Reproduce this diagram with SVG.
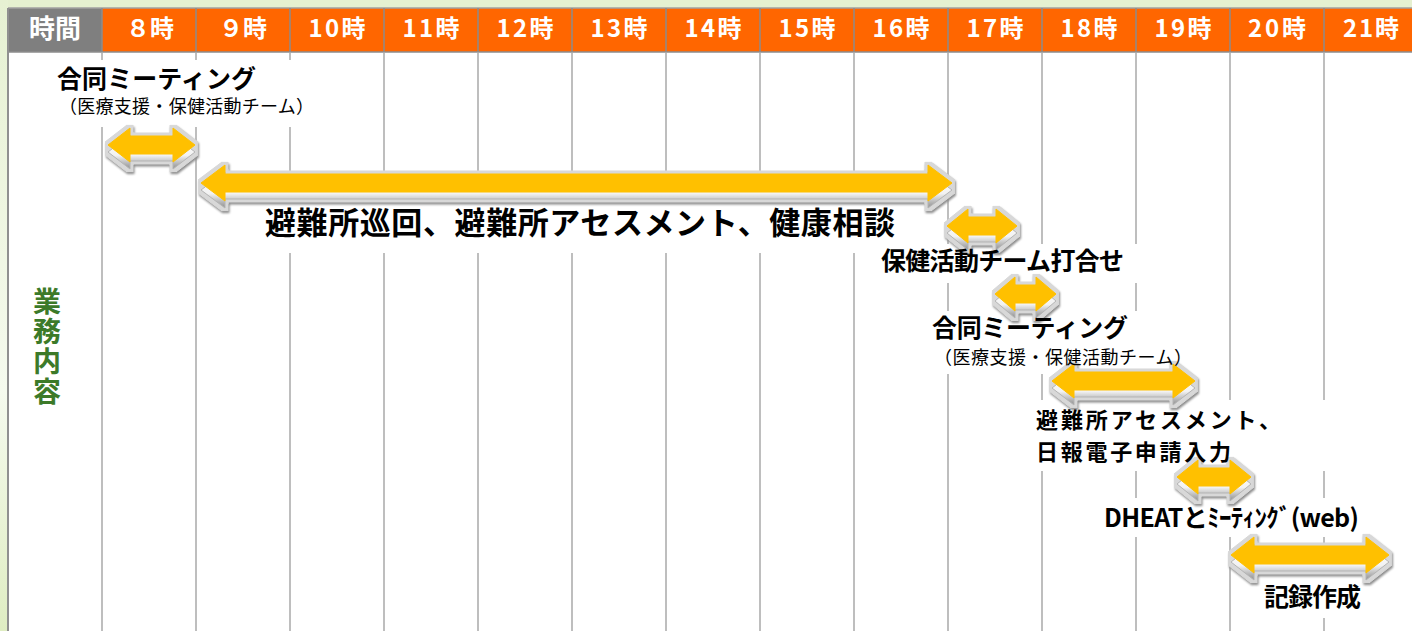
<svg xmlns="http://www.w3.org/2000/svg" xmlns:xlink="http://www.w3.org/1999/xlink" width="1412" height="631" viewBox="0 0 1412 631">
<defs>
  <linearGradient id="bgside" x1="0" y1="0" x2="0" y2="1">
    <stop offset="0" stop-color="#e6f1d2"/>
    <stop offset="0.62" stop-color="#f5faee"/>
    <stop offset="1" stop-color="#dfedc2"/>
  </linearGradient>
  <linearGradient id="ext" x1="0" y1="0" x2="0" y2="1">
    <stop offset="0" stop-color="#ffffff"/>
    <stop offset="0.6" stop-color="#f2f2f2"/>
    <stop offset="1" stop-color="#8e8e8e"/>
  </linearGradient>
  <filter id="bev" filterUnits="userSpaceOnUse" x="0" y="0" width="1412" height="631" color-interpolation-filters="sRGB">
    <feMorphology in="SourceAlpha" operator="dilate" radius="2.5" result="dil"/>
    <feGaussianBlur in="dil" stdDeviation="1.2" result="blur"/>
    <feOffset in="blur" dx="1" dy="1.5" result="off"/>
    <feFlood flood-color="#8c8c8c" result="c1"/>
    <feComposite in="c1" in2="off" operator="in" result="shadow"/>
    <feFlood flood-color="#d8d8d8" result="c2"/>
    <feComposite in="c2" in2="dil" operator="in" result="rim"/>
    <feMerge><feMergeNode in="shadow"/><feMergeNode in="rim"/><feMergeNode in="SourceGraphic"/></feMerge>
  </filter>
  <path id="a1" d="M108 145 L130 128 L130 136 L173 136 L173 128 L195 145 L173 162 L173 154 L130 154 L130 162 Z"/>
  <path id="a2" d="M201 183 L225 165 L225 174 L928 174 L928 165 L952 183 L928 201 L928 192 L225 192 L225 201 Z"/>
  <path id="a3" d="M947 226 L968 209 L968 217 L996 217 L996 209 L1017 226 L996 243 L996 235 L968 235 L968 243 Z"/>
  <path id="a4" d="M995 294 L1015 277 L1015 285 L1036 285 L1036 277 L1056 294 L1036 311 L1036 303 L1015 303 L1015 311 Z"/>
  <path id="a5" d="M1052 381 L1074 364 L1074 372 L1173 372 L1173 364 L1195 381 L1173 398 L1173 390 L1074 390 L1074 398 Z"/>
  <path id="a6" d="M1177 477 L1198 460 L1198 468 L1230 468 L1230 460 L1251 477 L1230 494 L1230 486 L1198 486 L1198 494 Z"/>
  <path id="a7" d="M1231 555 L1254 537 L1254 546 L1366 546 L1366 537 L1389 555 L1366 573 L1366 564 L1254 564 L1254 573 Z"/>
</defs>
<style>
  .hdr { font-family: "Noto Sans CJK JP", "Noto Sans", sans-serif; font-weight: 700; font-size: 24px; fill: #ffffff; text-anchor: middle; }
  .grid { stroke: #a8a8a8; stroke-width: 1.5; }
  .hsep { stroke: #8c8c8c; stroke-width: 1.5; }
  .lbl { font-family: "Noto Sans CJK JP", "Noto Sans", sans-serif; font-weight: 700; font-size: 25px; fill: #000000; }
  .big { font-size: 31px; }
  .mid { font-size: 22px; }
  .sub { font-family: "Noto Sans CJK JP", "Noto Sans", sans-serif; font-weight: 400; font-size: 18px; fill: #000000; }
  .box { fill: #ffffff; }
  .ext { fill: url(#ext); stroke: #b4b4b4; stroke-width: 1; stroke-linejoin: round; }
  .face { fill: #ffc000; stroke: #ffc000; stroke-width: 1; stroke-linejoin: round; }
  .side { font-family: "Noto Sans CJK JP", "Noto Sans", sans-serif; font-weight: 700; font-size: 28px; fill: #3c7a29; writing-mode: vertical-rl; letter-spacing: 2px; }
</style>

<!-- background -->
<rect x="0" y="0" width="1412" height="631" fill="#e5f0d0"/>
<rect x="0" y="0" width="8" height="631" fill="url(#bgside)"/>
<rect x="8" y="8" width="1404" height="623" fill="#ffffff"/>

<!-- header -->
<g id="header">
  <rect x="8" y="8" width="94" height="44" fill="#7f7f7f"/>
  <rect x="102" y="8" width="1310" height="44" fill="#ff6600"/>
  <line x1="8" y1="8" x2="1412" y2="8" stroke="#a0a0a0" stroke-width="1.5"/>
  <line x1="8" y1="52" x2="1412" y2="52" stroke="#8c8c8c" stroke-width="1.5"/>
  <g class="hsep">
    <line x1="102" y1="8" x2="102" y2="52"/><line x1="196" y1="8" x2="196" y2="52"/>
    <line x1="290" y1="8" x2="290" y2="52"/><line x1="384" y1="8" x2="384" y2="52"/>
    <line x1="478" y1="8" x2="478" y2="52"/><line x1="572" y1="8" x2="572" y2="52"/>
    <line x1="666" y1="8" x2="666" y2="52"/><line x1="760" y1="8" x2="760" y2="52"/>
    <line x1="854" y1="8" x2="854" y2="52"/><line x1="948" y1="8" x2="948" y2="52"/>
    <line x1="1042" y1="8" x2="1042" y2="52"/><line x1="1136" y1="8" x2="1136" y2="52"/>
    <line x1="1230" y1="8" x2="1230" y2="52"/><line x1="1324" y1="8" x2="1324" y2="52"/>
  </g>
  <text class="hdr" x="55" y="38" style="font-size:26px">時間</text>
  <text class="hdr" x="150" y="37">８時</text>
  <text class="hdr" x="243" y="37">９時</text>
  <text class="hdr" x="337" y="37" textLength="57">10時</text>
  <text class="hdr" x="431" y="37" textLength="57">11時</text>
  <text class="hdr" x="525" y="37" textLength="57">12時</text>
  <text class="hdr" x="619" y="37" textLength="57">13時</text>
  <text class="hdr" x="713" y="37" textLength="57">14時</text>
  <text class="hdr" x="807" y="37" textLength="57">15時</text>
  <text class="hdr" x="901" y="37" textLength="57">16時</text>
  <text class="hdr" x="995" y="37" textLength="57">17時</text>
  <text class="hdr" x="1089" y="37" textLength="57">18時</text>
  <text class="hdr" x="1183" y="37" textLength="57">19時</text>
  <text class="hdr" x="1277" y="37" textLength="58">20時</text>
  <text class="hdr" x="1371" y="37" textLength="56">21時</text>
</g>

<!-- body grid -->
<g id="grid" class="grid">
  <line x1="8" y1="8" x2="8" y2="631" stroke="#909090" stroke-width="2"/>
  <line x1="102" y1="52" x2="102" y2="631"/><line x1="196" y1="52" x2="196" y2="631"/>
  <line x1="290" y1="52" x2="290" y2="631"/><line x1="384" y1="52" x2="384" y2="631"/>
  <line x1="478" y1="52" x2="478" y2="631"/><line x1="572" y1="52" x2="572" y2="631"/>
  <line x1="666" y1="52" x2="666" y2="631"/><line x1="760" y1="52" x2="760" y2="631"/>
  <line x1="854" y1="52" x2="854" y2="631"/><line x1="948" y1="52" x2="948" y2="631"/>
  <line x1="1042" y1="52" x2="1042" y2="631"/><line x1="1136" y1="52" x2="1136" y2="631"/>
  <line x1="1230" y1="52" x2="1230" y2="631"/><line x1="1324" y1="52" x2="1324" y2="631"/>
</g>

<!-- side label -->
<g id="side-label">
  <text class="side" x="47" y="287">業務内容</text>
</g>

<!-- label backgrounds -->
<g id="label-boxes" class="box">
  <rect x="55" y="60" width="257" height="67"/>
  <rect x="205" y="198" width="735" height="55"/>
  <rect x="872" y="244" width="268" height="39"/>
  <rect x="928" y="311" width="267" height="63"/>
  <rect x="1032" y="400" width="298" height="71"/>
  <rect x="1100" y="498" width="268" height="39"/>
  <rect x="1258" y="575" width="112" height="43"/>
</g>

<!-- arrows -->
<g id="connectors">
  <g id="arrow-1" filter="url(#bev)"><use xlink:href="#a1" class="ext" transform="translate(0,7)"/><use xlink:href="#a1" class="face"/></g>
  <g id="arrow-2" filter="url(#bev)"><use xlink:href="#a2" class="ext" transform="translate(0,7)"/><use xlink:href="#a2" class="face"/></g>
  <g id="arrow-3" filter="url(#bev)"><use xlink:href="#a3" class="ext" transform="translate(0,7)"/><use xlink:href="#a3" class="face"/></g>
  <g id="arrow-4" filter="url(#bev)"><use xlink:href="#a4" class="ext" transform="translate(0,7)"/><use xlink:href="#a4" class="face"/></g>
  <g id="arrow-5" filter="url(#bev)"><use xlink:href="#a5" class="ext" transform="translate(0,7)"/><use xlink:href="#a5" class="face"/></g>
  <g id="arrow-6" filter="url(#bev)"><use xlink:href="#a6" class="ext" transform="translate(0,7)"/><use xlink:href="#a6" class="face"/></g>
  <g id="arrow-7" filter="url(#bev)"><use xlink:href="#a7" class="ext" transform="translate(0,7)"/><use xlink:href="#a7" class="face"/></g>
</g>

<!-- labels -->
<g id="label-joint-meeting-1">
  <text class="lbl" x="57" y="88" textLength="199">合同ミーティング</text>
  <text class="sub" x="59" y="113" textLength="255">（医療支援・保健活動チーム）</text>
</g>
<g id="label-rounds">
  <text class="lbl big" x="265" y="234" textLength="630">避難所巡回、避難所アセスメント、健康相談</text>
</g>
<g id="label-team-meeting">
  <text class="lbl" x="881" y="270" textLength="243">保健活動チーム打合せ</text>
</g>
<g id="label-joint-meeting-2">
  <text class="lbl" x="932" y="337" textLength="196">合同ミーティング</text>
  <text class="sub" x="934" y="364" textLength="258">（医療支援・保健活動チーム）</text>
</g>
<g id="label-assessment">
  <text class="lbl mid" x="1036" y="427.5" textLength="245">避難所アセスメント、</text>
  <text class="lbl mid" x="1036" y="459.5" textLength="195">日報電子申請入力</text>
</g>
<g id="label-dheat">
  <text class="lbl" x="1104" y="527" textLength="255">DHEATとﾐｰﾃｨﾝｸﾞ(web)</text>
</g>
<g id="label-record">
  <text class="lbl" x="1264" y="606" textLength="97">記録作成</text>
</g>
</svg>
